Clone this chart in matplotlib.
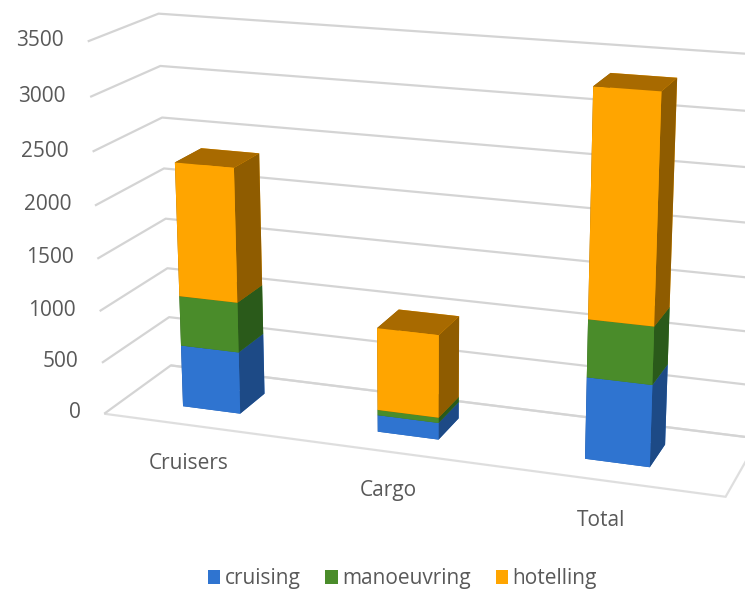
import matplotlib
matplotlib.use("Agg")
import matplotlib.pyplot as plt
import numpy as np
from matplotlib.patches import Patch

categories = ["Cruisers", "Cargo", "Total"]
cruising = [600, 160, 760]
manoeuvring = [480, 50, 530]
hotelling = [1270, 780, 2050]
series_names = ["cruising", "manoeuvring", "hotelling"]
z_ticks = [0, 500, 1000, 1500, 2000, 2500, 3000, 3500]

# front, top, side colors per series
front_cols = ["#2F74D0", "#4A8C2A", "#FFA500"]
top_cols = ["#2A63B0", "#3F7A24", "#A86A00"]
side_cols = ["#1D4A86", "#2A5A1A", "#8F5C00"]

plt.rcParams['font.family'] = ['Open Sans', 'DejaVu Sans']
fig = plt.figure(figsize=(7.45, 5.95), dpi=100)
ax = fig.add_axes([-0.038, 0.09, 1.2, 0.98], projection='3d')
ax.set_proj_type('persp', focal_length=0.7)

bw, bd = 0.30, 0.4
y0 = 0.3
series = [cruising, manoeuvring, hotelling]
xs = np.arange(len(categories))
for i, xi in enumerate(xs):
    bottom = 0
    for s, vals in enumerate(series):
        v = vals[i]
        cols = [top_cols[s], top_cols[s], front_cols[s], front_cols[s], side_cols[s], side_cols[s]]
        ax.bar3d(xi - bw / 2, y0, bottom, bw, bd, v, color=cols, shade=False, linewidth=0)
        bottom += v

ax.set_xlim(-0.46, 2.54)
ax.set_ylim(0, 1)
ax.set_zlim(0, 3500)
ax.set_box_aspect((4.15, 1, 2.49), zoom=1.3)
ax.view_init(elev=16.5, azim=-70.5)

ax.set_xticks(xs)
ax.set_xticklabels(categories, fontsize=15, color="#595959")
ax.set_yticks([])
ax.set_zticks(z_ticks)
ax.set_zticklabels([str(t) for t in z_ticks], fontsize=15, color="#595959",
                   ha='right', va='center')
# place the value axis on the front-left vertical edge, labels pointing left
ax.zaxis._axinfo['juggled'] = (1, 2, 0)
ax.tick_params(axis='x', pad=6.5)
ax.tick_params(axis='z', pad=0)

for axis in (ax.xaxis, ax.yaxis, ax.zaxis):
    axis.line.set_color((1, 1, 1, 0))
    axis._axinfo['tick']['inward_factor'] = 0
    axis._axinfo['tick']['outward_factor'] = 0
    axis.pane.fill = False
ax.xaxis._axinfo['grid']['color'] = (1, 1, 1, 0)
ax.yaxis._axinfo['grid']['color'] = (1, 1, 1, 0)
ax.zaxis._axinfo['grid']['color'] = "#D4D4D4"
ax.zaxis._axinfo['grid']['linewidth'] = 1.6
ax.xaxis.pane.set_edgecolor((1, 1, 1, 0))
ax.yaxis.pane.set_edgecolor((1, 1, 1, 0))
ax.zaxis.pane.set_edgecolor("#BFBFBF")
ax.zaxis.pane.set_linewidth(1.6)

handles = [Patch(facecolor=c, edgecolor='none') for c in front_cols]
fig.legend(handles, series_names, loc='lower center', bbox_to_anchor=(0.54, -0.022), ncol=3,
           frameon=False, fontsize=15, handlelength=0.6, handleheight=0.6,
           handletextpad=0.2, columnspacing=1.2, labelcolor="#595959")

fig.savefig("out.png", dpi=100)
